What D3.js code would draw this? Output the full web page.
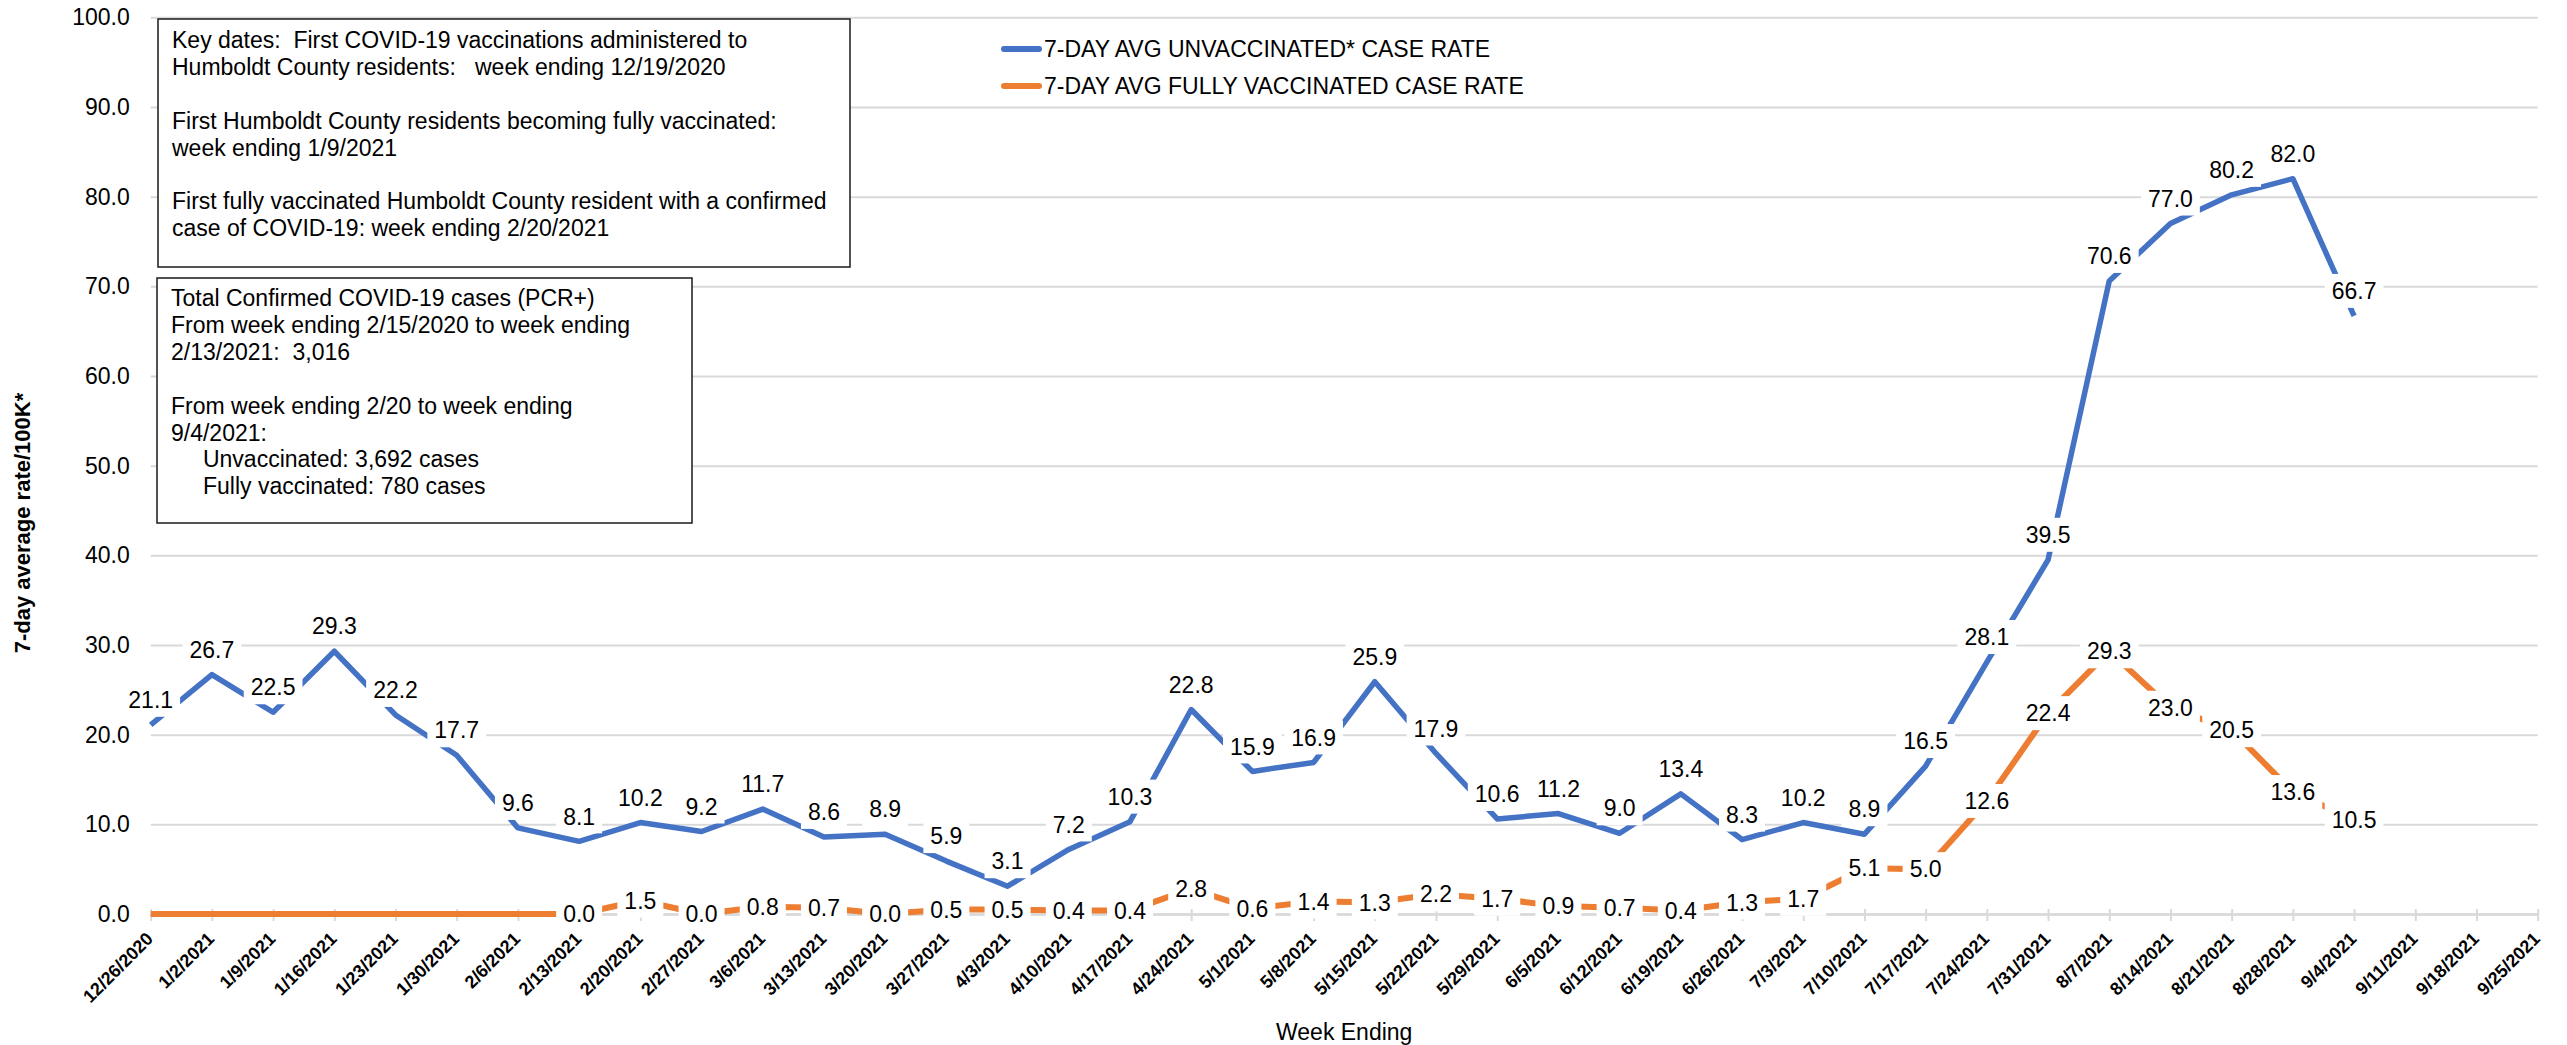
<!DOCTYPE html>
<html>
<head>
<meta charset="utf-8">
<script src="https://cdn.jsdelivr.net/npm/d3@7"></script>
<style>
  body { margin: 0; background: #fff; }
  text { font-family: "Liberation Sans", Arial, sans-serif; fill: #000; }
</style>
</head>
<body>
<div id="chart"></div>
<script>
// Week ending dates (x categories)
const weeks = ["12/26/2020", "1/2/2021", "1/9/2021", "1/16/2021", "1/23/2021", "1/30/2021", "2/6/2021",
    "2/13/2021", "2/20/2021", "2/27/2021", "3/6/2021", "3/13/2021", "3/20/2021", "3/27/2021", "4/3/2021",
    "4/10/2021", "4/17/2021", "4/24/2021", "5/1/2021", "5/8/2021", "5/15/2021", "5/22/2021", "5/29/2021",
    "6/5/2021", "6/12/2021", "6/19/2021", "6/26/2021", "7/3/2021", "7/10/2021", "7/17/2021", "7/24/2021",
    "7/31/2021", "8/7/2021", "8/14/2021", "8/21/2021", "8/28/2021", "9/4/2021", "9/11/2021", "9/18/2021",
    "9/25/2021"];

// 7-day avg unvaccinated case rate
const unvaxRate = [21.1, 26.7, 22.5, 29.3, 22.2, 17.7, 9.6, 8.1, 10.2, 9.2, 11.7, 8.6, 8.9, 5.9, 3.1,
    7.2, 10.3, 22.8, 15.9, 16.9, 25.9, 17.9, 10.6, 11.2, 9.0, 13.4, 8.3, 10.2, 8.9, 16.5, 28.1,
    39.5, 70.6, 77.0, 80.2, 82.0, 66.7, null, null, null];

// 7-day avg fully vaccinated case rate
const vaxRate = [0, 0, 0, 0, 0, 0, 0, 0.0, 1.5, 0.0, 0.8, 0.7, 0.0, 0.5, 0.5,
    0.4, 0.4, 2.8, 0.6, 1.4, 1.3, 2.2, 1.7, 0.9, 0.7, 0.4, 1.3, 1.7, 5.1, 5.0, 12.6,
    22.4, 29.3, 23.0, 20.5, 13.6, 10.5, null, null, null];
const vaxLabelStart = 7; // labels start at 2/13/2021

const yTicks = [0, 10, 20, 30, 40, 50, 60, 70, 80, 90, 100];

const seriesNames = ["7-DAY AVG UNVACCINATED* CASE RATE", "7-DAY AVG FULLY VACCINATED CASE RATE"];
const colors = ["#4472C4", "#ED7D31"];

const boxOneLines = [
    "Key dates:  First COVID-19 vaccinations administered to",
    "Humboldt County residents:   week ending 12/19/2020",
    "",
    "First Humboldt County residents becoming fully vaccinated:",
    "week ending 1/9/2021",
    "",
    "First fully vaccinated Humboldt County resident with a confirmed",
    "case of COVID-19: week ending 2/20/2021"
];
const boxTwoLines = [
    "Total Confirmed COVID-19 cases (PCR+)",
    "From week ending 2/15/2020 to week ending",
    "2/13/2021:  3,016",
    "",
    "From week ending 2/20 to week ending",
    "9/4/2021:",
    "     Unvaccinated: 3,692 cases",
    "     Fully vaccinated: 780 cases"
];

const width = 2567, height = 1045;
const plot = {left: 150.7, right: 2537.7, top: 17.3, bottom: 914};

const svg = d3.select("#chart").append("svg")
    .attr("width", width)
    .attr("height", height);

const x = d3.scalePoint().domain(weeks).range([plot.left, plot.right]);
const y = d3.scaleLinear().domain([0, 100]).range([plot.bottom, plot.top]);
const fmt = d3.format(".1f");

// Y axis + gridlines
const yAxis = svg.append("g")
    .attr("transform", "translate(" + plot.left + ",0)")
    .call(d3.axisLeft(y).tickValues(yTicks).tickFormat(fmt)
        .tickSize(-(plot.right - plot.left)).tickPadding(21));
yAxis.select(".domain").remove();
yAxis.selectAll(".tick line").attr("stroke", "#d9d9d9").attr("stroke-width", 2);
yAxis.selectAll(".tick text")
    .style("font-family", "'Liberation Sans', Arial, sans-serif")
    .style("font-size", "23px")
    .attr("fill", "#000");

// X axis
const xAxis = svg.append("g")
    .attr("transform", "translate(0," + plot.bottom + ")")
    .call(d3.axisBottom(x).tickSize(7).tickSizeOuter(0));
xAxis.select(".domain").attr("stroke", "#d9d9d9").attr("stroke-width", 2.5);
xAxis.selectAll(".tick line").attr("stroke", "#d9d9d9").attr("stroke-width", 2).attr("y1", -5);
xAxis.selectAll(".tick text")
    .attr("x", 0).attr("y", 0).attr("dy", null)
    .attr("transform", "translate(3,26) rotate(-45)")
    .style("text-anchor", "end")
    .style("font-family", "'Liberation Sans', Arial, sans-serif")
    .style("font-size", "18px")
    .style("font-weight", "bold")
    .attr("fill", "#000");

// Lines
const line = d3.line()
    .defined(d => d != null)
    .x((d, i) => x(weeks[i]))
    .y(d => y(d));

[unvaxRate, vaxRate].forEach((vals, s) => {
    svg.append("path")
        .datum(vals)
        .attr("fill", "none")
        .attr("stroke", colors[s])
        .attr("stroke-width", s === 0 ? 5.5 : 6)
        .attr("stroke-linejoin", "round")
        .attr("d", line);
});

// Data labels with white boxes
function addLabels(vals, startIdx, offset) {
    const g = svg.append("g");
    vals.forEach((v, i) => {
        if (v == null || i < startIdx) return;
        const cx = x(weeks[i]);
        const cy = y(v) + offset;
        const rect = g.append("rect").attr("fill", "#fff");
        const t = g.append("text")
            .attr("x", cx)
            .attr("y", cy + 8.2)
            .attr("text-anchor", "middle")
            .style("font-size", "23px")
            .text(fmt(v));
        const w = t.node().getComputedTextLength() + 14;
        rect.attr("x", cx - w / 2).attr("y", cy - 17).attr("width", w).attr("height", 34);
    });
}
addLabels(unvaxRate, 0, -25);
addLabels(vaxRate, vaxLabelStart, 0);

// Annotation boxes
function addBox(lines, bx, by, bw, bh, tx, ty) {
    const g = svg.append("g");
    g.append("rect")
        .attr("x", bx).attr("y", by).attr("width", bw).attr("height", bh)
        .attr("fill", "#fff").attr("stroke", "#1a1a1a").attr("stroke-width", 1.5);
    g.selectAll("text").data(lines).enter().append("text")
        .attr("x", tx)
        .attr("y", (d, i) => ty + i * 26.9)
        .style("font-size", "23px")
        .style("white-space", "pre")
        .text(d => d);
}
addBox(boxOneLines, 158, 19, 692, 248, 172, 48);
addBox(boxTwoLines, 157, 278, 535, 245, 171, 306);

// Legend
const legend = svg.append("g");
seriesNames.forEach((name, i) => {
    const ly = 49 + i * 37;
    legend.append("line")
        .attr("x1", 1004).attr("x2", 1039).attr("y1", ly).attr("y2", ly)
        .attr("stroke", colors[i]).attr("stroke-width", 6).attr("stroke-linecap", "round");
    legend.append("text")
        .attr("x", 1044).attr("y", ly + 8.2)
        .style("font-size", "23px")
        .text(name);
});

// Axis titles
svg.append("text")
    .attr("transform", "translate(30,523) rotate(-90)")
    .attr("text-anchor", "middle")
    .style("font-size", "22px")
    .style("font-weight", "bold")
    .text("7-day average rate/100K*");

svg.append("text")
    .attr("x", (plot.left + plot.right) / 2)
    .attr("y", 1040)
    .attr("text-anchor", "middle")
    .style("font-size", "23px")
    .text("Week Ending");
</script>
</body>
</html>
